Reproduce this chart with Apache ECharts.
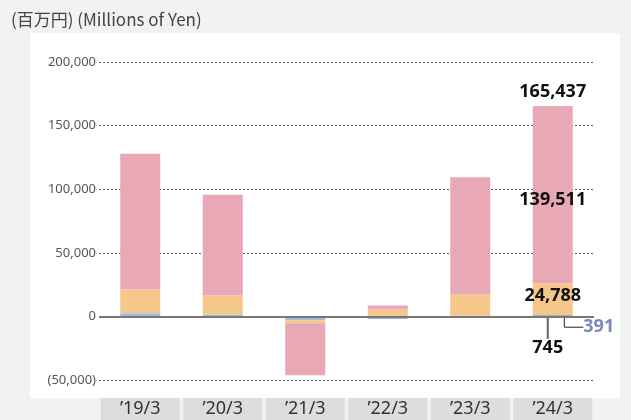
<!DOCTYPE html>
<html>
<head>
<meta charset="utf-8">
<script src="https://cdn.jsdelivr.net/npm/echarts@6/dist/echarts.min.js"></script>
<style>
  html, body { margin: 0; padding: 0; background: #f1f2f2; }
  #wrap { position: relative; width: 631px; height: 420px; overflow: hidden; }
  .panel { position: absolute; left: 30px; top: 33px; width: 590px; height: 365px; background: #ffffff; }
  #chart { position: absolute; left: 0; top: 0; width: 631px; height: 420px; }
</style>
</head>
<body>
<div id="wrap">
  <div class="panel"></div>
  <div id="chart"></div>
</div>
<script>
  // 年度
  const categories = ['\u201919/3', '\u201920/3', '\u201921/3', '\u201922/3', '\u201923/3', '\u201924/3'];
  // 積み上げ各要素（百万円）
  const blueVals = [2400, 1500, -3000, -2000, 500, 745];
  const slateVals = [0, 0, 0, 0, 0, 391];
  const orangeVals = [18800, 15000, -2300, 5500, 16700, 24788];
  const pinkVals = [106600, 79100, -41000, 3100, 92100, 139511];
  const totalVals = [127800, 95600, -46300, 8600, 109300, 165437];
  // 数値ラベルを出すのは最新年度だけ
  const labelIndex = 5;
  const yTicks = [-50000, 0, 50000, 100000, 150000, 200000];

  const fmt = v => v.toLocaleString('en-US');
  const boldLabel = { fontFamily: 'Noto Sans', fontWeight: 'bold', fontSize: 18, color: '#111' };

  function withLabel(vals, labelOpt) {
    return vals.map((v, i) => {
      if (i !== labelIndex) return v;
      return { value: v, label: Object.assign({ show: true, formatter: fmt(v) }, boldLabel, labelOpt) };
    });
  }

  const chart = echarts.init(document.getElementById('chart'));
  const option = {
    backgroundColor: 'transparent',
    animation: false,
    title: {
      text: '(百万円) (Millions of Yen)',
      left: 6,
      top: 6,
      textStyle: { fontFamily: 'Noto Sans CJK JP', fontSize: 17, fontWeight: 'normal', color: '#444' }
    },
    grid: { left: 99, right: 37, top: 62, bottom: 39 },
    xAxis: {
      type: 'category',
      data: categories,
      axisLine: { show: false },
      axisTick: { show: false },
      axisLabel: {
        margin: 18,
        width: 79,
        height: 22,
        lineHeight: 22,
        align: 'center',
        backgroundColor: '#dcdddd',
        fontFamily: 'Noto Sans',
        fontSize: 18,
        color: '#333'
      }
    },
    yAxis: {
      type: 'value',
      min: yTicks[0],
      max: yTicks[yTicks.length - 1],
      interval: 50000,
      axisLine: { show: false },
      axisTick: { show: false },
      axisLabel: {
        margin: 3,
        fontFamily: 'Noto Sans',
        fontSize: 13,
        color: '#555',
        formatter: v => (v < 0 ? '(' + fmt(-v) + ')' : fmt(v))
      },
      splitLine: { lineStyle: { color: '#555', type: [2, 2], width: 1 } }
    },
    series: [
      {
        type: 'bar', stack: 'total', barWidth: 40,
        itemStyle: { color: '#9bbbe0' },
        data: withLabel(blueVals, { position: 'inside', color: '#111' }),
        labelLayout: { dx: -5, dy: 32 },
        labelLine: { show: true, length2: 6, lineStyle: { color: '#666', width: 2 } },
        markLine: {
          silent: true, symbol: 'none', label: { show: false },
          lineStyle: { color: '#777', type: 'solid', width: 2 },
          data: [{ yAxis: 0 }]
        }
      },
      {
        type: 'bar', stack: 'total', barWidth: 40,
        itemStyle: { color: '#7d87b6' },
        data: withLabel(slateVals, { position: 'inside', color: '#7d87b6', padding: [0, 0, 0, 8] }),
        labelLayout: { dx: 42, dy: 12 },
        labelLine: { show: true, length2: 19, lineStyle: { color: '#222', width: 1 } }
      },
      {
        type: 'bar', stack: 'total', barWidth: 40,
        itemStyle: { color: '#f5c78a' },
        data: withLabel(orangeVals, { position: 'inside', offset: [0, -3] })
      },
      {
        type: 'bar', stack: 'total', barWidth: 40,
        itemStyle: { color: '#e9a8b5' },
        data: withLabel(pinkVals, { position: 'inside', offset: [0, 5] })
      },
      {
        type: 'scatter', symbolSize: 0, silent: true,
        itemStyle: { opacity: 1 },
        data: withLabel(totalVals, { position: 'top', distance: 5 })
      }
    ]
  };
  chart.setOption(option);
</script>
</body>
</html>
